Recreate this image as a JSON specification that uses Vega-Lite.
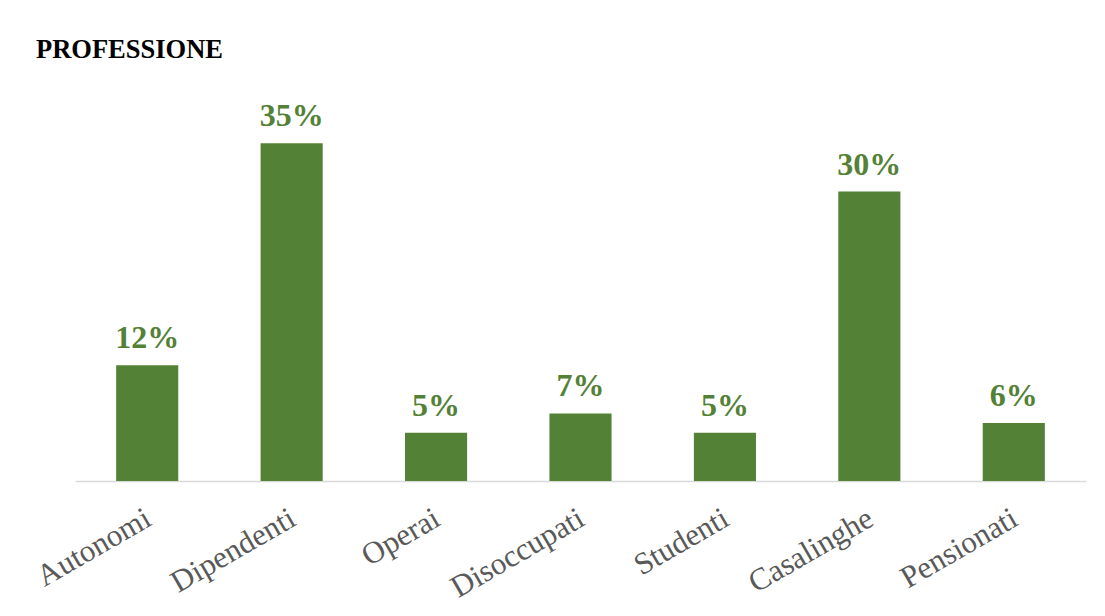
{
  "$schema": "https://vega.github.io/schema/vega-lite/v6.json",
  "autosize": {"type": "none"},
  "width": 1011,
  "height": 386,
  "padding": {"left": 75, "top": 95, "right": 19, "bottom": 135},
  "background": "white",
  "title": {
    "text": "PROFESSIONE",
    "anchor": "start",
    "frame": "group",
    "font": "Liberation Serif",
    "fontSize": 26.5,
    "fontWeight": "bold",
    "color": "#000000",
    "dx": -39,
    "offset": 32
  },
  "data": {
    "values": [
      {"categoria": "Autonomi", "valore": 0.12},
      {"categoria": "Dipendenti", "valore": 0.35},
      {"categoria": "Operai", "valore": 0.05},
      {"categoria": "Disoccupati", "valore": 0.07},
      {"categoria": "Studenti", "valore": 0.05},
      {"categoria": "Casalinghe", "valore": 0.30},
      {"categoria": "Pensionati", "valore": 0.06}
    ]
  },
  "encoding": {
    "x": {
      "field": "categoria",
      "type": "nominal",
      "sort": null,
      "scale": {"paddingInner": 0.57, "paddingOuter": 0.285},
      "axis": {
        "title": null,
        "labelAngle": -30,
        "labelFont": "Liberation Serif",
        "labelFontSize": 31,
        "labelColor": "#595959",
        "labelPadding": 22,
        "labelOffset": -6,
        "ticks": false,
        "domainColor": "#d9d9d9",
        "domainWidth": 1.5
      }
    },
    "y": {
      "field": "valore",
      "type": "quantitative",
      "scale": {"domain": [0, 0.4]},
      "axis": null
    }
  },
  "layer": [
    {"mark": {"type": "bar", "color": "#538135"}},
    {
      "mark": {
        "type": "text",
        "font": "Liberation Serif",
        "fontSize": 32,
        "fontWeight": "bold",
        "color": "#538135",
        "baseline": "alphabetic",
        "dy": -17
      },
      "encoding": {"text": {"field": "valore", "type": "quantitative", "format": ".0%"}}
    }
  ],
  "config": {"view": {"stroke": null}}
}
